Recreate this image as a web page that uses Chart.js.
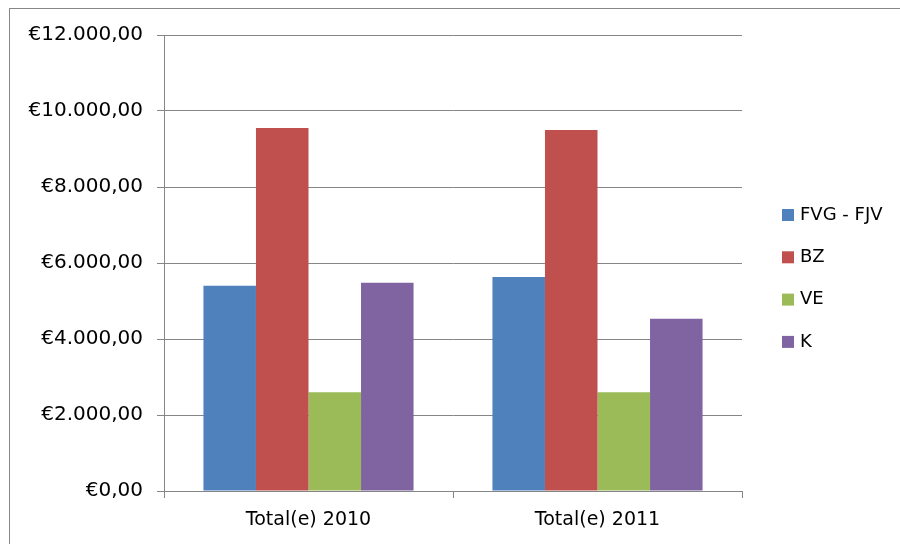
<!DOCTYPE html>
<html>
<head>
<meta charset="utf-8">
<script src="https://cdn.jsdelivr.net/npm/chart.js@4/dist/chart.umd.min.js"></script>
<style>
  html, body { margin: 0; padding: 0; background: #fff; overflow: hidden; }
  #wrap { position: relative; width: 900px; height: 544px; overflow: hidden; }
  #frame { position: absolute; left: 9px; top: 8px; width: 891px; height: 536px;
           border-left: 1px solid #878787; border-top: 1px solid #878787; }
  canvas { position: absolute; left: 0; top: 0; }
</style>
</head>
<body>
<div id="wrap">
  <div id="frame"></div>
  <canvas id="chart" width="900" height="544"></canvas>
</div>
<script>
const categories = ["Total(e) 2010", "Total(e) 2011"];
const seriesNames = ["FVG - FJV", "BZ", "VE", "K"];
const fvgValues = [5400, 5630];
const bzValues = [9550, 9500];
const veValues = [2600, 2600];
const kValues = [5480, 4530];
const colors = ["#4F81BD", "#C0504D", "#9BBB59", "#8064A2"];

const euro = (v) => {
    const parts = Math.abs(v).toFixed(2).split(".");
    const intPart = parts[0].replace(/\B(?=(\d{3})+(?!\d))/g, ".");
    return "€" + intPart + "," + parts[1];
};

// legenda disegnata a destra come in Excel
const sideLegend = {
    id: "sideLegend",
    afterDraw(chart) {
        const ctx = chart.ctx;
        ctx.save();
        ctx.font = "18px 'DejaVu Sans'";
        ctx.textBaseline = "middle";
        chart.data.datasets.forEach((ds, i) => {
            const y = 215 + i * 42.3;
            ctx.fillStyle = ds.backgroundColor;
            ctx.fillRect(782, y - 6, 12, 12);
            ctx.fillStyle = "#000";
            ctx.fillText(ds.label, 800, y);
        });
        ctx.restore();
    },
};

const allValues = [fvgValues, bzValues, veValues, kValues];

new Chart(document.getElementById("chart"), {
    type: "bar",
    data: {
        labels: categories,
        datasets: seriesNames.map((name, i) => ({
            label: name,
            data: allValues[i],
            backgroundColor: colors[i],
            categoryPercentage: 0.727,
            barPercentage: 1.0,
        })),
    },
    options: {
        responsive: false,
        animation: false,
        layout: { padding: { top: 35, right: 158, bottom: 0, left: 0 } },
        plugins: {
            legend: { display: false },
            tooltip: { enabled: false },
        },
        scales: {
            x: {
                afterFit: (s) => { s.height = 53; },
                grid: {
                    offset: true,
                    drawOnChartArea: false,
                    color: "#868686",
                    tickLength: 7,
                },
                border: { color: "#868686", width: 1 },
                ticks: {
                    color: "#000",
                    padding: 11,
                    font: { family: "DejaVu Sans", size: 19 },
                },
            },
            y: {
                min: 0,
                max: 12000,
                afterFit: (s) => { s.width = 164; },
                grid: { color: "#868686", tickLength: 7 },
                border: { color: "#868686", width: 1 },
                ticks: {
                    stepSize: 2000,
                    color: "#000",
                    padding: 14,
                    font: { family: "DejaVu Sans", size: 20 },
                    callback: (v) => euro(v),
                },
            },
        },
    },
    plugins: [sideLegend],
});
</script>
</body>
</html>
